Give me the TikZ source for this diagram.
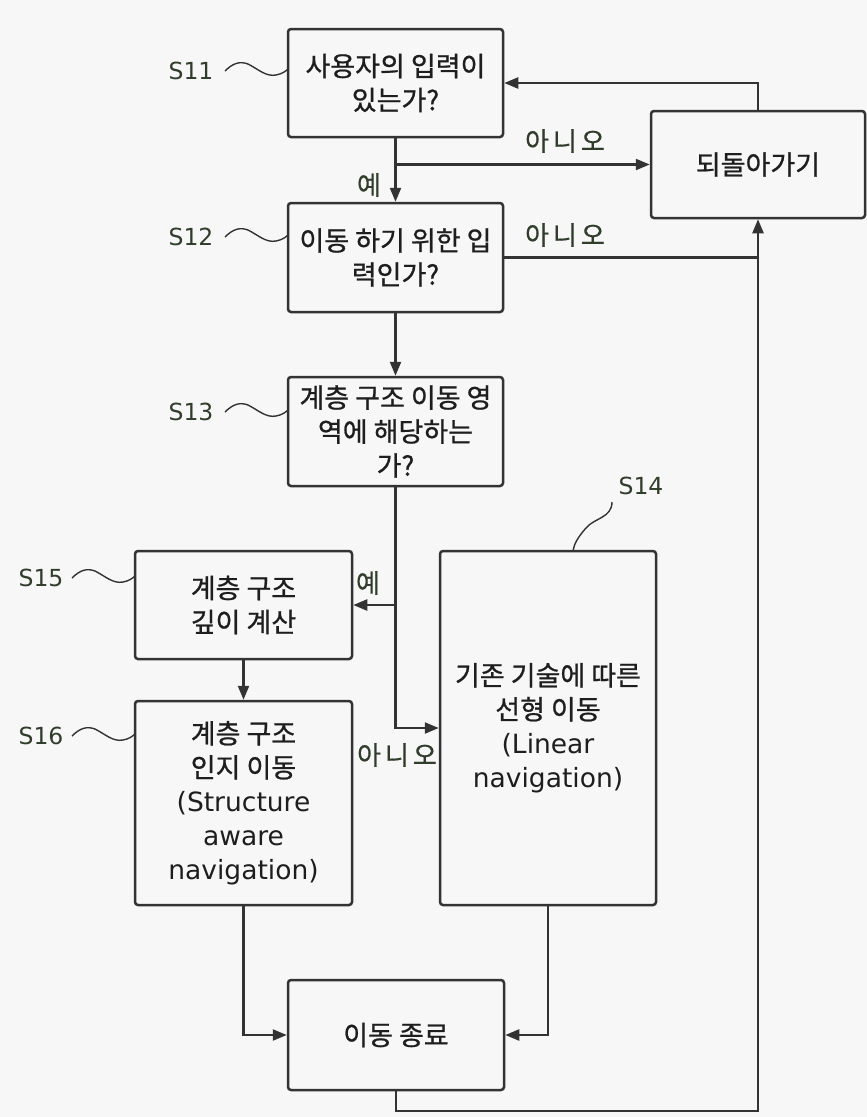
\documentclass[tikz,border=0pt]{standalone}
\usepackage{fontspec}
\setmainfont{DejaVu Sans}
\newfontfamily\kr[FakeBold=0.8]{Noto Sans CJK KR}
\newfontfamily\krl[FakeBold=0.5]{Noto Sans CJK KR}
\usetikzlibrary{arrows.meta}
\definecolor{ln}{HTML}{333333}
\definecolor{bg}{HTML}{F7F7F7}
\definecolor{lb}{HTML}{2F3D2A}
\definecolor{tx}{HTML}{1E1E1E}
\newcommand\lat{\normalfont\fontsize{26.5}{34}\selectfont}
\tikzset{
  box/.style={draw=ln, line width=2.5pt, rounded corners=3pt, fill=bg, align=center,
    inner sep=0pt, text=tx, font=\kr\fontsize{27}{34}\selectfont},
  con/.style={draw=ln, line width=2.3pt, -{Triangle[length=14pt,width=11pt]}},
  plain/.style={draw=ln, line width=2.3pt},
  lead/.style={draw=ln, line width=1.4pt},
  lbl/.style={text=lb, font=\fontsize{23.5}{28}\selectfont, inner sep=0pt},
  yn/.style={text=lb, font=\krl\fontsize{26}{28}\selectfont, inner sep=0pt},
}
\newcommand\wig[1]{\draw[lead,shift={(#1)}] (0,0) .. controls (8,-8) and (15,-10) .. (23,-7) .. controls (33,-2) and (41,6) .. (51,4) .. controls (57,3) and (61,0) .. (63,-2);}
\begin{document}
\begin{tikzpicture}[x=1pt,y=-1pt]
\fill[bg] (0,0) rectangle (867,1117);
\useasboundingbox (0,0) rectangle (867,1117);

\node[box, minimum width=215pt, minimum height=108pt] (S11) at (395.5,83) {사용자의 입력이\\있는가?};
\node[box, minimum width=215pt, minimum height=109pt] (S12) at (395.5,257.5) {이동 하기 위한 입\\력인가?};
\node[box, minimum width=215pt, minimum height=109pt] (S13) at (395.5,431.5) {계층 구조 이동 영\\역에 해당하는\\가?};
\node[box, minimum width=214pt, minimum height=107pt] (Back) at (758,164.5) {되돌아가기};
\node[box, minimum width=217pt, minimum height=108pt] (S15) at (243.5,605) {계층 구조\\깊이 계산};
\node[box, minimum width=217pt, minimum height=204pt] (S16) at (243.5,803) {계층 구조\\인지 이동\\{\lat (Structure}\\{\lat aware}\\{\lat navigation)}};
\node[box, minimum width=216pt, minimum height=354pt] (S14) at (548,728) {기존 기술에 따른\\선형 이동\\{\lat (Linear}\\{\lat navigation)}};
\node[box, minimum width=216pt, minimum height=110pt] (End) at (396,1035) {이동 종료};

\coordinate (bot) at (0,1111);

% connectors
\draw[con] (S11.south) -- (S12.north);
\draw[con] (S11.south |- Back.west) -- (Back.west);
\draw[con] (Back.north) |- (S11.east);
\draw[plain] (S12.east) -- (S12.east -| Back.south);
\draw[con] (End.south) |- (Back.south |- bot) -- (Back.south);
\draw[con] (S12.south) -- (S13.north);
\draw[con] (S13.south) |- (S14.west);
\draw[con] (S13.south |- S15.east) -- (S15.east);
\draw[con] (S15.south) -- (S16.north);
\draw[con] (S16.south) |- (End.west);
\draw[con] (S14.south) |- (End.east);

% yes / no labels
\node[yn] (y1) at (369,185) {예};
\node[yn] (n1) at (565,141) {아\hspace{4pt}니\hspace{4pt}오};
\node[yn] (n2) at (565,235) {아\hspace{4pt}니\hspace{4pt}오};
\node[yn] (y2) at (368,583) {예};
\node[yn] (n3) at (397,755) {아\hspace{4pt}니\hspace{4pt}오};

% step labels
\node[lbl] (L11) at (191,71) {S11};
\node[lbl] (L12) at (191,237) {S12};
\node[lbl] (L13) at (191,412) {S13};
\node[lbl] (L15) at (41,578) {S15};
\node[lbl] (L16) at (41,736) {S16};
\node[lbl] (L14) at (641,486) {S14};

\wig{225,71}
\wig{225,237}
\wig{225,412}
\wig{72,578}
\wig{72,736}
\draw[lead] (612,502) .. controls (612,518) and (594,518) .. (586,528) .. controls (578,537) and (574,544) .. (573,551);
\end{tikzpicture}
\end{document}
